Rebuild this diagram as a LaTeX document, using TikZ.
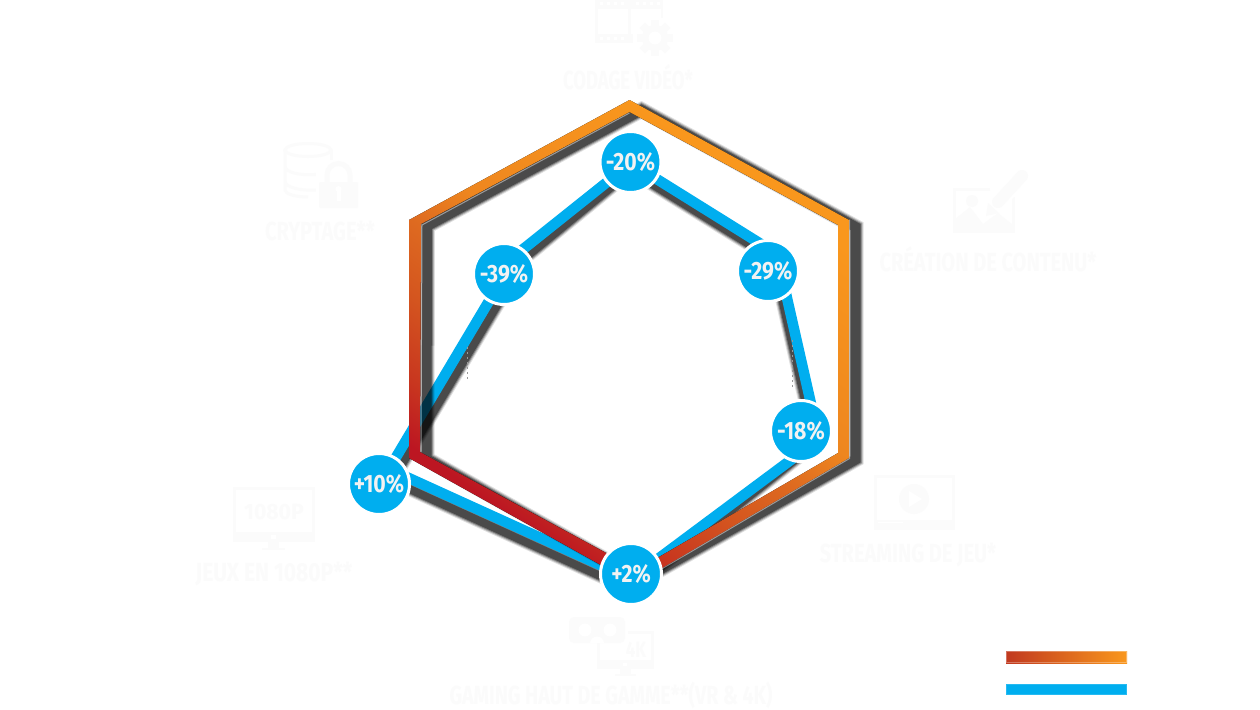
\documentclass[tikz,border=0pt]{standalone}
\usepackage{fontspec}
\setmainfont{Fira Sans}
\newfontfamily\labfont[FakeStretch=0.77]{Fira Sans}
\newfontfamily\pctfont[FakeStretch=0.85]{Fira Sans}
\definecolor{faint}{HTML}{FBFBFB}
\definecolor{skyb}{HTML}{00AEEF}
\definecolor{gA}{HTML}{BC1622}
\definecolor{gB}{HTML}{C8361F}
\definecolor{gC}{HTML}{D4551F}
\definecolor{gD}{HTML}{DE6A20}
\definecolor{gF}{HTML}{EE861F}
\definecolor{gE}{HTML}{F9971D}
\definecolor{gL}{HTML}{C1391F}
\pgfdeclareverticalshading{hexgrad}{100bp}{color(0bp)=(gA); color(32.25bp)=(gA); color(36.7bp)=(gB); color(42.5bp)=(gC); color(47.75bp)=(gD); color(52.4bp)=(gF); color(66.7bp)=(gE); color(100bp)=(gE)}
\tikzset{
  x=1pt,y=-1pt,
  caption/.style={font=\labfont\bfseries\fontsize{26}{26}\selectfont,text=faint,inner sep=0pt,anchor=center},
  icotext/.style={font=\labfont\bfseries\fontsize{22}{22}\selectfont,text=faint,inner sep=0pt},
  pct/.style={circle,fill=skyb,draw=white,line width=3pt,minimum size=61pt,inner sep=0pt,text=white!95!black,font=\pctfont\bfseries\fontsize{25}{25}\selectfont},
  icofill/.style={fill=faint,draw=none},
  icoline/.style={draw=faint,line width=3pt,fill=none},
  hole/.style={fill=white,draw=none},
  bluelink/.style={draw=skyb,line width=10.5pt,line join=miter},
  dots/.style={draw=black!40,line width=0.7pt,dash pattern=on 2pt off 3pt},
}
\begin{document}
\begin{tikzpicture}
\useasboundingbox[fill=white] (0,0) rectangle (1260,709);
% --- icons ---
% film + gear
\fill[icofill] (595,0) rectangle (663,9);
\fill[icofill] (661,0) rectangle (663,18);
\fill[icofill] (595,0) rectangle (598,43);
\fill[icofill] (595,34) rectangle (633,43);
\fill[icofill] (628,0) rectangle (631,43);
\foreach \i in {600,607,614,621,636,643,650,657}{\fill[hole] (\i,2) rectangle ++(3,3);}
\foreach \i in {600,607,614,621}{\fill[hole] (\i,37) rectangle ++(3,3);}
\foreach \a in {0,45,...,315}{\fill[icofill,rotate around={\a:(655,38)}] (651,20) rectangle (659,30);}
\fill[icofill] (655,38) circle (13);
\fill[hole] (655,38) circle (6.5);
% database + lock
\draw[icoline] (308,150) ellipse (23 and 6.5);
\draw[icoline] (285,150) -- (285,190) arc[start angle=180,end angle=90,x radius=23,y radius=7];
\draw[icoline] (331,150) -- (331,170);
\draw[icoline] (285,168) .. controls (290,174) and (305,176) .. (320,174);
\draw[icoline] (285,183) .. controls (290,189) and (305,191) .. (318,190);
\fill[hole] (316,160) rectangle (362,212);
\draw[draw=white,line width=9pt] (327,184) -- (327,175) arc[start angle=180,end angle=360,radius=11.5] -- (350,184);
\draw[draw=faint,line width=5pt] (327,184) -- (327,175) arc[start angle=180,end angle=360,radius=11.5] -- (350,184);
\fill[icofill,rounded corners=1pt] (319,182) rectangle (358,208);
\fill[hole] (338.5,189) circle (3);
\fill[hole] (337,190) rectangle (340.5,201);
% image + pencil
\draw[icoline] (990,189.5) -- (954.5,189.5) -- (954.5,231.5) -- (1013.5,231.5) -- (1013.5,197);
\fill[icofill] (972,201) circle (6);
\fill[icofill] (955,219) -- (970,207) -- (983,224) -- (998,213) -- (1013,225) -- (1013,232) -- (955,232) -- cycle;
\draw[draw=white,line width=17pt] (993,207) -- (1022,176);
\draw[draw=faint,line width=12pt,line cap=round] (998,202) -- (1022,176);
\fill[icofill] (986,216) -- (988,203) -- (999,213) -- cycle;
% streaming
\draw[icoline] (875.5,476.5) rectangle (953.5,528.5);
\fill[icofill] (874,520) rectangle (955,530);
\fill[icofill] (914,499) circle (15);
\fill[hole] (909,491) -- (922,499) -- (909,507) -- cycle;
\fill[hole] (878,522) rectangle (903,523);
% 1080p
\draw[icoline] (234.5,488.5) rectangle (313.5,538);
\fill[icofill] (233,532) rectangle (315,542);
\fill[hole] (271,535) rectangle (276,539);
\fill[icofill] (268,542) rectangle (279,549);
\fill[icofill] (262,547.5) rectangle (285,550);
\node[icotext,xscale=1.25] (res) at (274,512) {1080P};
% VR + 4k
\fill[icofill,rounded corners=5pt] (569,617) rectangle (625,643);
\fill[hole] (585,630) circle (6.5);
\fill[hole] (610,630) circle (6.5);
\fill[hole] (590,643.5) arc[start angle=180,end angle=360,radius=7] -- cycle;
\draw[icoline] (628,632.5) -- (652.5,632.5) -- (652.5,667) -- (598.5,667) -- (598.5,643);
\fill[icofill] (597,660) rectangle (654,669);
\fill[hole] (623,663) rectangle (627,666);
\fill[icofill] (620,669) rectangle (631,675);
\fill[icofill] (615,674) rectangle (636,676);
\node[icotext] (fk) at (636,650) {4K};
% --- captions ---
\node[caption,xscale=0.92] (c1) at (628,77) {CODAGE VIDÉO*};
\node[caption] (c2) at (320,231) {CRYPTAGE**};
\node[caption] (c3) at (988,259) {CRÉATION DE CONTENU*};
\node[caption] (c4) at (908,555) {STREAMING DE JEU*};
\node[caption,xscale=1.05] (c5) at (274,574) {JEUX EN 1080P**};
\node[caption,xscale=0.98] (c6) at (611,695.5) {GAMING HAUT DE GAMME**(VR \& 4K)};
% --- vertices ---
\coordinate (v1) at (631,163);
\coordinate (v2) at (777,254);
\coordinate (v3) at (819,439);
\coordinate (v4) at (631,579);
\coordinate (v5) at (389,469);
\coordinate (v6) at (517,254);
\coordinate (d1) at (631,171);
\coordinate (d2) at (773,259);
\coordinate (d3) at (815,444);
\coordinate (d4) at (631,590);
\coordinate (d5) at (392,481);
\coordinate (d6) at (526,257);
\coordinate (h1) at (629.5,106);
\coordinate (h2) at (843.5,223);
\coordinate (h3) at (843.5,455.5);
\coordinate (h4) at (629.5,576);
\coordinate (h5) at (414.5,455);
\coordinate (h6) at (415,222);
% blue shadow
\foreach \w/\o in {14/0.12,12/0.2,10/0.3,8/0.4}{
  \draw[black,opacity=\o,line width=\w pt,line join=miter] (d1)--(d2)--(d3)--(d4)--(d5)--(d6)--cycle;}
% blue polygon
\draw[bluelink] (v1)--(v2)--(v3)--(v4)--(v5)--(v6)--cycle;
% dotted traces
\draw[dots] (467,347) -- (467,380);
\draw[dots] (792,340) -- (792,388);
% hexagon shadow
\foreach \w/\o in {16/0.12,14/0.2,12/0.3,10/0.4}{
  \draw[black,opacity=\o,line width=\w pt,line join=miter]
    ([shift={(12,4)}]h1)--([shift={(12,4)}]h2)--([shift={(12,4)}]h3)--([shift={(12,4)}]h4)--([shift={(12,4)}]h5)--([shift={(12,4)}]h6)--cycle;}
% gradient ring
\begin{scope}
\clip (629.5,100) -- (849,220) -- (849,458) -- (640,581) -- (629.5,581) -- (409,458) -- (409,220) -- cycle
      (629.5,112) -- (421,224) -- (420,452) -- (620,560.5) -- (640,568) -- (838,453) -- (838,225) -- cycle;
\fill[shading=hexgrad,shading angle=-35] (330,40) rectangle (930,640);
\end{scope}
% thin light rim on the inner and outer edges of the ring
\draw[white,opacity=0.45,line width=1pt,line join=miter] (849.7,219.6) -- (849.7,458.4) -- (640,581.7);
\draw[white,opacity=0.45,line width=1pt,line join=miter] (629.5,113) -- (422,225) -- (421,451.5);
% value nodes
\node[pct] (n1) at (630.5,162) {-20\%};
\node[pct] (n2) at (768,271) {-29\%};
\node[pct] (n3) at (801,431) {-18\%};
\node[pct] (n4) at (631,574) {+2\%};
\node[pct] (n5) at (379,484) {+10\%};
\node[pct] (n6) at (504,274) {-39\%};
% legend
\fill[left color=gL,right color=gE] (1006,651) rectangle (1127,663);
\fill[skyb] (1006,684) rectangle (1127,695);
\draw[white,opacity=0.3,line width=1pt] (1006.5,651.5) rectangle (1126.5,662.5);
\draw[white,opacity=0.15,line width=1pt] (1006.5,684.5) rectangle (1126.5,694.5);
\end{tikzpicture}
\end{document}
